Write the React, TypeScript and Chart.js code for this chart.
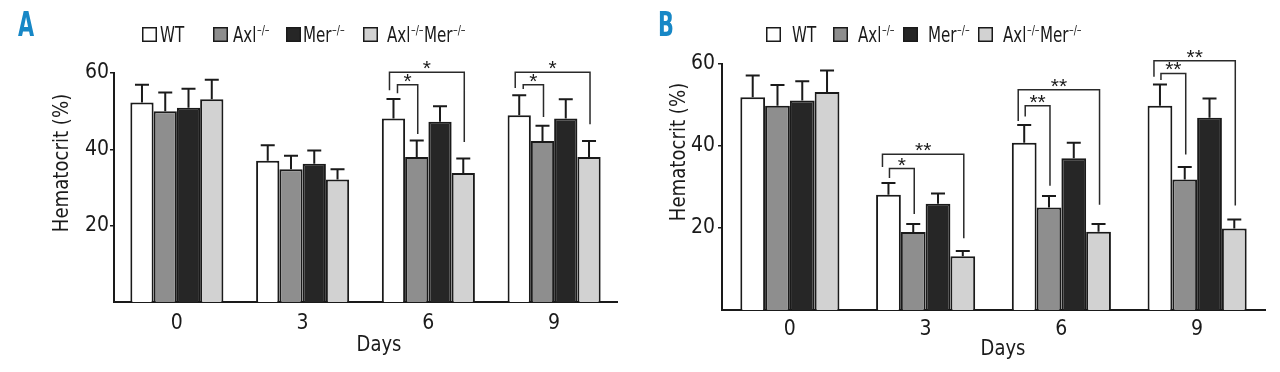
import { useEffect, useRef } from 'react';
import { Chart, registerables } from 'chart.js';

Chart.register(...registerables);

// ---------- data ----------
const days = ['0', '3', '6', '9'];
const seriesNames = ['WT', 'Axl-/-', 'Mer-/-', 'Axl-/-Mer-/-'];

// Panel A
const wtA = [52.3, 37.0, 48.1, 48.9];
const wtErrA = [4.6, 4.1, 5.1, 5.3];
const axlA = [50.0, 34.8, 38.0, 42.2];
const axlErrA = [4.9, 3.5, 4.3, 4.0];
const merA = [50.9, 36.2, 47.2, 48.1];
const merErrA = [5.0, 3.5, 4.1, 5.0];
const dkoA = [53.1, 32.1, 33.8, 38.0];
const dkoErrA = [5.1, 2.7, 3.8, 4.2];

// Panel B
const wtB = [51.9, 28.1, 40.8, 49.8];
const wtErrB = [5.3, 2.9, 4.3, 5.2];
const axlB = [49.8, 19.0, 25.0, 31.8];
const axlErrB = [5.1, 2.0, 2.8, 3.1];
const merB = [51.1, 25.9, 37.0, 46.9];
const merErrB = [4.7, 2.5, 3.8, 4.7];
const dkoB = [53.2, 13.1, 19.1, 19.9];
const dkoErrB = [5.2, 1.3, 1.9, 2.2];

// significance brackets: day index, target series, bracket level, leg ends (data units), label
const bracketsA = [
  { day: 2, to: 3, top: 60.2, fromEnd: 55.5, toEnd: 41.9, label: '*', outer: true },
  { day: 2, to: 1, top: 56.9, fromEnd: 54.7, toEnd: 44.0, label: '*', outer: false },
  { day: 3, to: 3, top: 60.2, fromEnd: 56.1, toEnd: 46.6, label: '*', outer: true },
  { day: 3, to: 1, top: 56.9, fromEnd: 55.8, toEnd: 48.5, label: '*', outer: false },
];
const bracketsB = [
  { day: 1, to: 3, top: 38.0, fromEnd: 34.9, toEnd: 17.5, label: '**', outer: true },
  { day: 1, to: 1, top: 34.5, fromEnd: 32.2, toEnd: 23.4, label: '*', outer: false },
  { day: 2, to: 3, top: 53.7, fromEnd: 46.1, toEnd: 25.7, label: '**', outer: true },
  { day: 2, to: 1, top: 49.8, fromEnd: 47.2, toEnd: 30.3, label: '**', outer: false },
  { day: 3, to: 3, top: 60.8, fromEnd: 56.9, toEnd: 25.5, label: '**', outer: true },
  { day: 3, to: 1, top: 57.7, fromEnd: 56.1, toEnd: 37.9, label: '**', outer: false },
];

const yTicks = [20, 40, 60];

// ---------- styles ----------
const FONT = '"DejaVu Sans Condensed", "Liberation Sans", sans-serif';
const fills = ['#ffffff', '#8e8e8e', '#262626', '#d2d2d2'];
const INK = '#1a1a1a';
const BLUE = '#1787c6';

type Layout = {
  letter: string;
  left: number; top: number; right: number; bottom: number;
  cat: number;
  tickPad: number; xPad: number;
  legendSq: number[]; legendTx: number[];
  yTitleX: number; yTitleY: number;
  daysX: number; daysY: number;
  outerOff: number; innerOff: number;
};

const layoutA: Layout = {
  letter: 'A', left: 114, top: 73, right: 617, bottom: 302, cat: 0.74,
  tickPad: 1, xPad: 9,
  legendSq: [142, 213, 286, 363], legendTx: [160, 233, 303, 387],
  yTitleX: 63, yTitleY: 163, daysX: 379, daysY: 346,
  outerOff: -4, innerOff: 4,
};
const layoutB: Layout = {
  letter: 'B', left: 82, top: 64, right: 625, bottom: 310, cat: 0.73,
  tickPad: 3, xPad: 7,
  legendSq: [126, 193, 263, 338], legendTx: [152, 218, 288, 363],
  yTitleX: 40, yTitleY: 152, daysX: 363, daysY: 350,
  outerOff: -6, innerOff: 1,
};

type Bracket = { day: number; to: number; top: number; fromEnd: number; toEnd: number; label: string; outer: boolean };

function legendParts(name: string): [string, boolean][] {
  const out: [string, boolean][] = [];
  const re = /(-\/-)/g;
  let last = 0;
  let m: RegExpExecArray | null;
  while ((m = re.exec(name))) {
    if (m.index > last) out.push([name.slice(last, m.index), false]);
    out.push(['\u2013/\u2013', true]);
    last = m.index + m[0].length;
  }
  if (last < name.length) out.push([name.slice(last), false]);
  return out;
}

function narrowText(ctx: CanvasRenderingContext2D, text: string, x: number, y: number, sx: number) {
  ctx.save();
  ctx.translate(x, y);
  ctx.scale(sx, 1);
  ctx.fillText(text, 0, 0);
  ctx.restore();
  return ctx.measureText(text).width * sx;
}

function makeChart(canvas: HTMLCanvasElement, L: Layout, values: number[][], errs: number[][], brackets: Bracket[]) {
  const W = 640, H = 372;
  const overlay = {
    id: 'overlay',
    afterDatasetsDraw(chart: any) {
      const ctx = chart.ctx as CanvasRenderingContext2D;
      const ys = chart.scales.y;
      ctx.save();
      // error bars
      ctx.strokeStyle = INK;
      ctx.lineWidth = 2;
      values.forEach((_, di) => {
        const meta = chart.getDatasetMeta(di);
        meta.data.forEach((el: any, i: number) => {
          const top = ys.getPixelForValue(values[di][i] + errs[di][i]);
          ctx.beginPath();
          ctx.moveTo(el.x, el.y);
          ctx.lineTo(el.x, top);
          ctx.moveTo(el.x - 7, top);
          ctx.lineTo(el.x + 7, top);
          ctx.stroke();
        });
      });
      // brackets
      ctx.lineWidth = 1.5;
      ctx.strokeStyle = '#2a2a2a';
      ctx.fillStyle = INK;
      ctx.font = '21px "Liberation Sans", sans-serif';
      ctx.textAlign = 'center';
      ctx.textBaseline = 'alphabetic';
      brackets.forEach((b) => {
        const from = chart.getDatasetMeta(0).data[b.day];
        const to = chart.getDatasetMeta(b.to).data[b.day];
        const x1 = from.x + (b.outer ? L.outerOff : L.innerOff);
        const x2 = to.x + 1;
        const yt = ys.getPixelForValue(b.top);
        ctx.beginPath();
        ctx.moveTo(x1, ys.getPixelForValue(b.fromEnd));
        ctx.lineTo(x1, yt);
        ctx.lineTo(x2, yt);
        ctx.lineTo(x2, ys.getPixelForValue(b.toEnd));
        ctx.stroke();
        const m = ctx.measureText(b.label);
        const cy = yt - 7;
        const base = cy + (m.actualBoundingBoxAscent - m.actualBoundingBoxDescent) / 2;
        ctx.fillText(b.label, (x1 + x2) / 2, base);
      });
      ctx.restore();
    },
    afterDraw(chart: any) {
      const ctx = chart.ctx as CanvasRenderingContext2D;
      ctx.save();
      // panel letter
      ctx.fillStyle = BLUE;
      ctx.font = `bold 34px ${FONT}`;
      ctx.textAlign = 'left';
      ctx.textBaseline = 'alphabetic';
      narrowText(ctx, L.letter, 18, 36, 0.68);
      // legend
      ctx.lineWidth = 1.5;
      seriesNames.forEach((name, i) => {
        const sx = L.legendSq[i];
        ctx.fillStyle = fills[i];
        ctx.fillRect(sx, 27, 15, 15);
        ctx.strokeStyle = INK;
        ctx.strokeRect(sx + 0.75, 27.75, 13.5, 13.5);
        let tx = L.legendTx[i];
        ctx.fillStyle = INK;
        legendParts(name).forEach(([t, sup]) => {
          ctx.font = sup ? `13px ${FONT}` : `21px ${FONT}`;
          tx += narrowText(ctx, t, tx, sup ? 34 : 42, 0.8) + (sup ? 0.5 : 0.5);
        });
      });
      // axis titles
      ctx.fillStyle = INK;
      ctx.font = `21px ${FONT}`;
      ctx.textAlign = 'center';
      ctx.textBaseline = 'middle';
      narrowText(ctx, 'Days', L.daysX, L.daysY, 0.95);
      ctx.translate(L.yTitleX, L.yTitleY);
      ctx.rotate(-Math.PI / 2);
      narrowText(ctx, 'Hematocrit (%)', 0, 0, 0.96);
      ctx.restore();
    },
  };

  return new Chart(canvas, {
    type: 'bar',
    data: {
      labels: days,
      datasets: values.map((v, i) => ({
        label: seriesNames[i],
        data: v,
        backgroundColor: fills[i],
        borderColor: INK,
        borderWidth: 2,
        borderSkipped: 'bottom',
        barPercentage: 1,
        categoryPercentage: L.cat,
      })),
    },
    options: {
      responsive: false,
      animation: false,
      devicePixelRatio: 1,
      layout: { padding: { left: 0, top: L.top, right: W - L.right, bottom: 0 } },
      plugins: { legend: { display: false }, tooltip: { enabled: false }, title: { display: false } },
      scales: {
        x: {
          grid: { display: false, drawTicks: false },
          border: { display: true, color: INK, width: 2 },
          ticks: { color: INK, font: { family: FONT, size: 21 }, padding: L.xPad },
          afterFit: (s: any) => { s.height = H - L.bottom; },
        },
        y: {
          min: 0,
          max: 60,
          grid: { display: true, drawOnChartArea: false, drawTicks: true, tickLength: 4, color: INK, lineWidth: 1.5 },
          border: { display: true, color: INK, width: 2 },
          ticks: { color: INK, font: { family: FONT, size: 21 }, padding: L.tickPad, stepSize: 20 },
          afterBuildTicks: (s: any) => { s.ticks = yTicks.map((v) => ({ value: v })); },
          afterFit: (s: any) => { s.width = L.left; },
        },
      },
    },
    plugins: [overlay],
  });
}

export default function App() {
  const refA = useRef<HTMLCanvasElement>(null);
  const refB = useRef<HTMLCanvasElement>(null);
  useEffect(() => {
    const a = makeChart(refA.current!, layoutA, [wtA, axlA, merA, dkoA], [wtErrA, axlErrA, merErrA, dkoErrA], bracketsA);
    const b = makeChart(refB.current!, layoutB, [wtB, axlB, merB, dkoB], [wtErrB, axlErrB, merErrB, dkoErrB], bracketsB);
    return () => { a.destroy(); b.destroy(); };
  }, []);
  return (
    <div style={{ position: 'fixed', left: 0, top: 0, width: 1280, height: 372, display: 'flex', background: '#fff' }}>
      <canvas ref={refA} width={640} height={372} style={{ width: 640, height: 372, display: 'block' }} />
      <canvas ref={refB} width={640} height={372} style={{ width: 640, height: 372, display: 'block' }} />
    </div>
  );
}
